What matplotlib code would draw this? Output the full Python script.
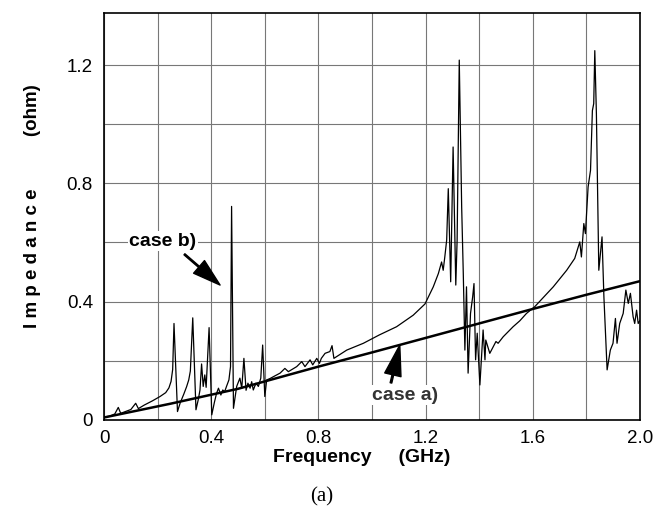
import numpy as np
import matplotlib
matplotlib.use('Agg')
import matplotlib.pyplot as plt

plt.rcParams['font.family'] = ['Liberation Sans', 'DejaVu Sans']

# case a) - smooth, nearly straight impedance curve
freq_a = [0.0, 0.25, 0.5, 0.8, 1.0, 1.2, 1.4, 1.6, 1.8, 2.0]
imp_a = [0.008, 0.055, 0.105, 0.18, 0.228, 0.277, 0.326, 0.375, 0.423, 0.469]

# case b) - resonant impedance curve
freq_b = [0.0, 0.02, 0.04, 0.053, 0.062, 0.08, 0.10, 0.118, 0.128, 0.15, 0.18, 0.209, 0.23, 0.242,
          0.25, 0.256, 0.261, 0.274, 0.284, 0.298, 0.308, 0.316, 0.322, 0.331, 0.343, 0.352, 0.358,
          0.364, 0.370, 0.376, 0.381, 0.386, 0.392, 0.402, 0.412, 0.420, 0.427, 0.436, 0.443, 0.450,
          0.457, 0.466, 0.472, 0.476, 0.483, 0.495, 0.507, 0.514, 0.522, 0.530, 0.537, 0.545, 0.551,
          0.557, 0.567, 0.576, 0.585, 0.592, 0.600, 0.607, 0.620, 0.632, 0.657, 0.675, 0.688, 0.719,
          0.738, 0.750, 0.769, 0.779, 0.794, 0.804, 0.811, 0.825, 0.843, 0.851, 0.858, 0.906, 0.968,
          1.027, 1.092, 1.154, 1.198, 1.229, 1.248, 1.260, 1.266, 1.272, 1.279, 1.285, 1.294, 1.303,
          1.313, 1.318, 1.326, 1.335, 1.341, 1.347, 1.353, 1.359, 1.368, 1.376, 1.381, 1.387, 1.393,
          1.403, 1.409, 1.415, 1.422, 1.425, 1.440, 1.453, 1.463, 1.471, 1.490, 1.503, 1.527, 1.552,
          1.577, 1.608, 1.677, 1.727, 1.757, 1.776, 1.782, 1.791, 1.797, 1.807, 1.816, 1.823, 1.828,
          1.832, 1.838, 1.847, 1.859, 1.866, 1.878, 1.890, 1.900, 1.909, 1.915, 1.925, 1.938, 1.948,
          1.957, 1.965, 1.975, 1.981, 1.988, 1.994, 2.0]
imp_b = [0.010, 0.012, 0.020, 0.042, 0.022, 0.028, 0.035, 0.056, 0.038, 0.050, 0.064, 0.079, 0.092, 0.108,
         0.130, 0.170, 0.326, 0.028, 0.057, 0.088, 0.112, 0.135, 0.165, 0.345, 0.034, 0.070, 0.101,
         0.189, 0.113, 0.152, 0.110, 0.200, 0.312, 0.017, 0.060, 0.090, 0.107, 0.084, 0.101, 0.095,
         0.113, 0.135, 0.180, 0.722, 0.039, 0.113, 0.141, 0.107, 0.208, 0.100, 0.124, 0.107, 0.129,
         0.101, 0.124, 0.113, 0.141, 0.253, 0.079, 0.135, 0.140, 0.146, 0.158, 0.174, 0.163, 0.180,
         0.197, 0.180, 0.203, 0.186, 0.208, 0.191, 0.208, 0.225, 0.231, 0.251, 0.208, 0.236, 0.259,
         0.287, 0.315, 0.354, 0.392, 0.450, 0.495, 0.534, 0.506, 0.551, 0.608, 0.782, 0.467, 0.923,
         0.456, 0.608, 1.217, 0.720, 0.495, 0.236, 0.450, 0.158, 0.360, 0.416, 0.461, 0.203, 0.293,
         0.118, 0.214, 0.304, 0.203, 0.270, 0.225, 0.248, 0.265, 0.259, 0.281, 0.293, 0.315, 0.335,
         0.360, 0.383, 0.450, 0.506, 0.546, 0.602, 0.551, 0.664, 0.630, 0.788, 0.844, 1.046, 1.070,
         1.249, 1.035, 0.506, 0.619, 0.416, 0.169, 0.236, 0.259, 0.343, 0.259, 0.326, 0.360, 0.439,
         0.394, 0.428, 0.349, 0.326, 0.371, 0.326, 0.335]

x_ticks = [0, 0.4, 0.8, 1.2, 1.6, 2.0]
x_labels = ['0', '0.4', '0.8', '1.2', '1.6', '2.0']
y_ticks = [0, 0.4, 0.8, 1.2]
y_labels = ['0', '0.4', '0.8', '1.2']

fig = plt.figure(figsize=(6.63, 5.12), dpi=100)
ax = fig.add_axes([0.157, 0.18, 0.808, 0.795])

ax.plot(freq_b, imp_b, color='black', lw=0.9, zorder=3)
ax.plot(freq_a, imp_a, color='black', lw=1.8, zorder=3)

ax.set_xlim(0, 2.0)
ax.set_ylim(0, 1.377)
ax.set_xticks(x_ticks)
ax.set_xticklabels(x_labels, fontsize=13.5)
ax.set_yticks(y_ticks)
ax.set_yticklabels(y_labels, fontsize=13.5)
ax.set_xticks(np.arange(0, 2.01, 0.2), minor=True)
ax.set_yticks(np.arange(0, 1.37, 0.2), minor=True)
ax.tick_params(which='both', length=0)
ax.tick_params(axis='x', pad=7)
ax.tick_params(axis='y', pad=8)
ax.grid(which='both', color='#777777', lw=0.8)
for s in ax.spines.values():
    s.set_linewidth(1.2)

# annotations
ax.annotate('', xy=(0.433, 0.456), xytext=(0.300, 0.560),
            arrowprops=dict(facecolor='black', edgecolor='black', width=1.0,
                            headwidth=12, headlength=20, shrink=0), zorder=4)
ax.text(0.22, 0.605, 'case b)', fontsize=14, fontweight='bold', ha='center', va='center',
        bbox=dict(facecolor='white', edgecolor='none', pad=1), zorder=4)
ax.annotate('', xy=(1.104, 0.253), xytext=(1.071, 0.125),
            arrowprops=dict(facecolor='black', edgecolor='black', width=1.2,
                            headwidth=12, headlength=22, shrink=0), zorder=4)
ax.text(1.123, 0.084, 'case a)', fontsize=14, fontweight='bold', ha='center', va='center',
        color='#333333', bbox=dict(facecolor='white', edgecolor='none', pad=1), zorder=4)

fig.text(362 / 663, 1 - 457 / 512, 'Frequency     (GHz)', fontsize=14, fontweight='bold',
         ha='center', va='center')
fig.text(33 / 663, 1 - 206 / 512, 'I m p e d a n c e          (ohm)', fontsize=13.5,
         fontweight='bold', ha='center', va='center', rotation=90)
fig.text(322 / 663, 1 - 497 / 512, '(a)', fontsize=15, family='Liberation Serif',
         ha='center', va='center')

fig.savefig('out.png', dpi=100)
